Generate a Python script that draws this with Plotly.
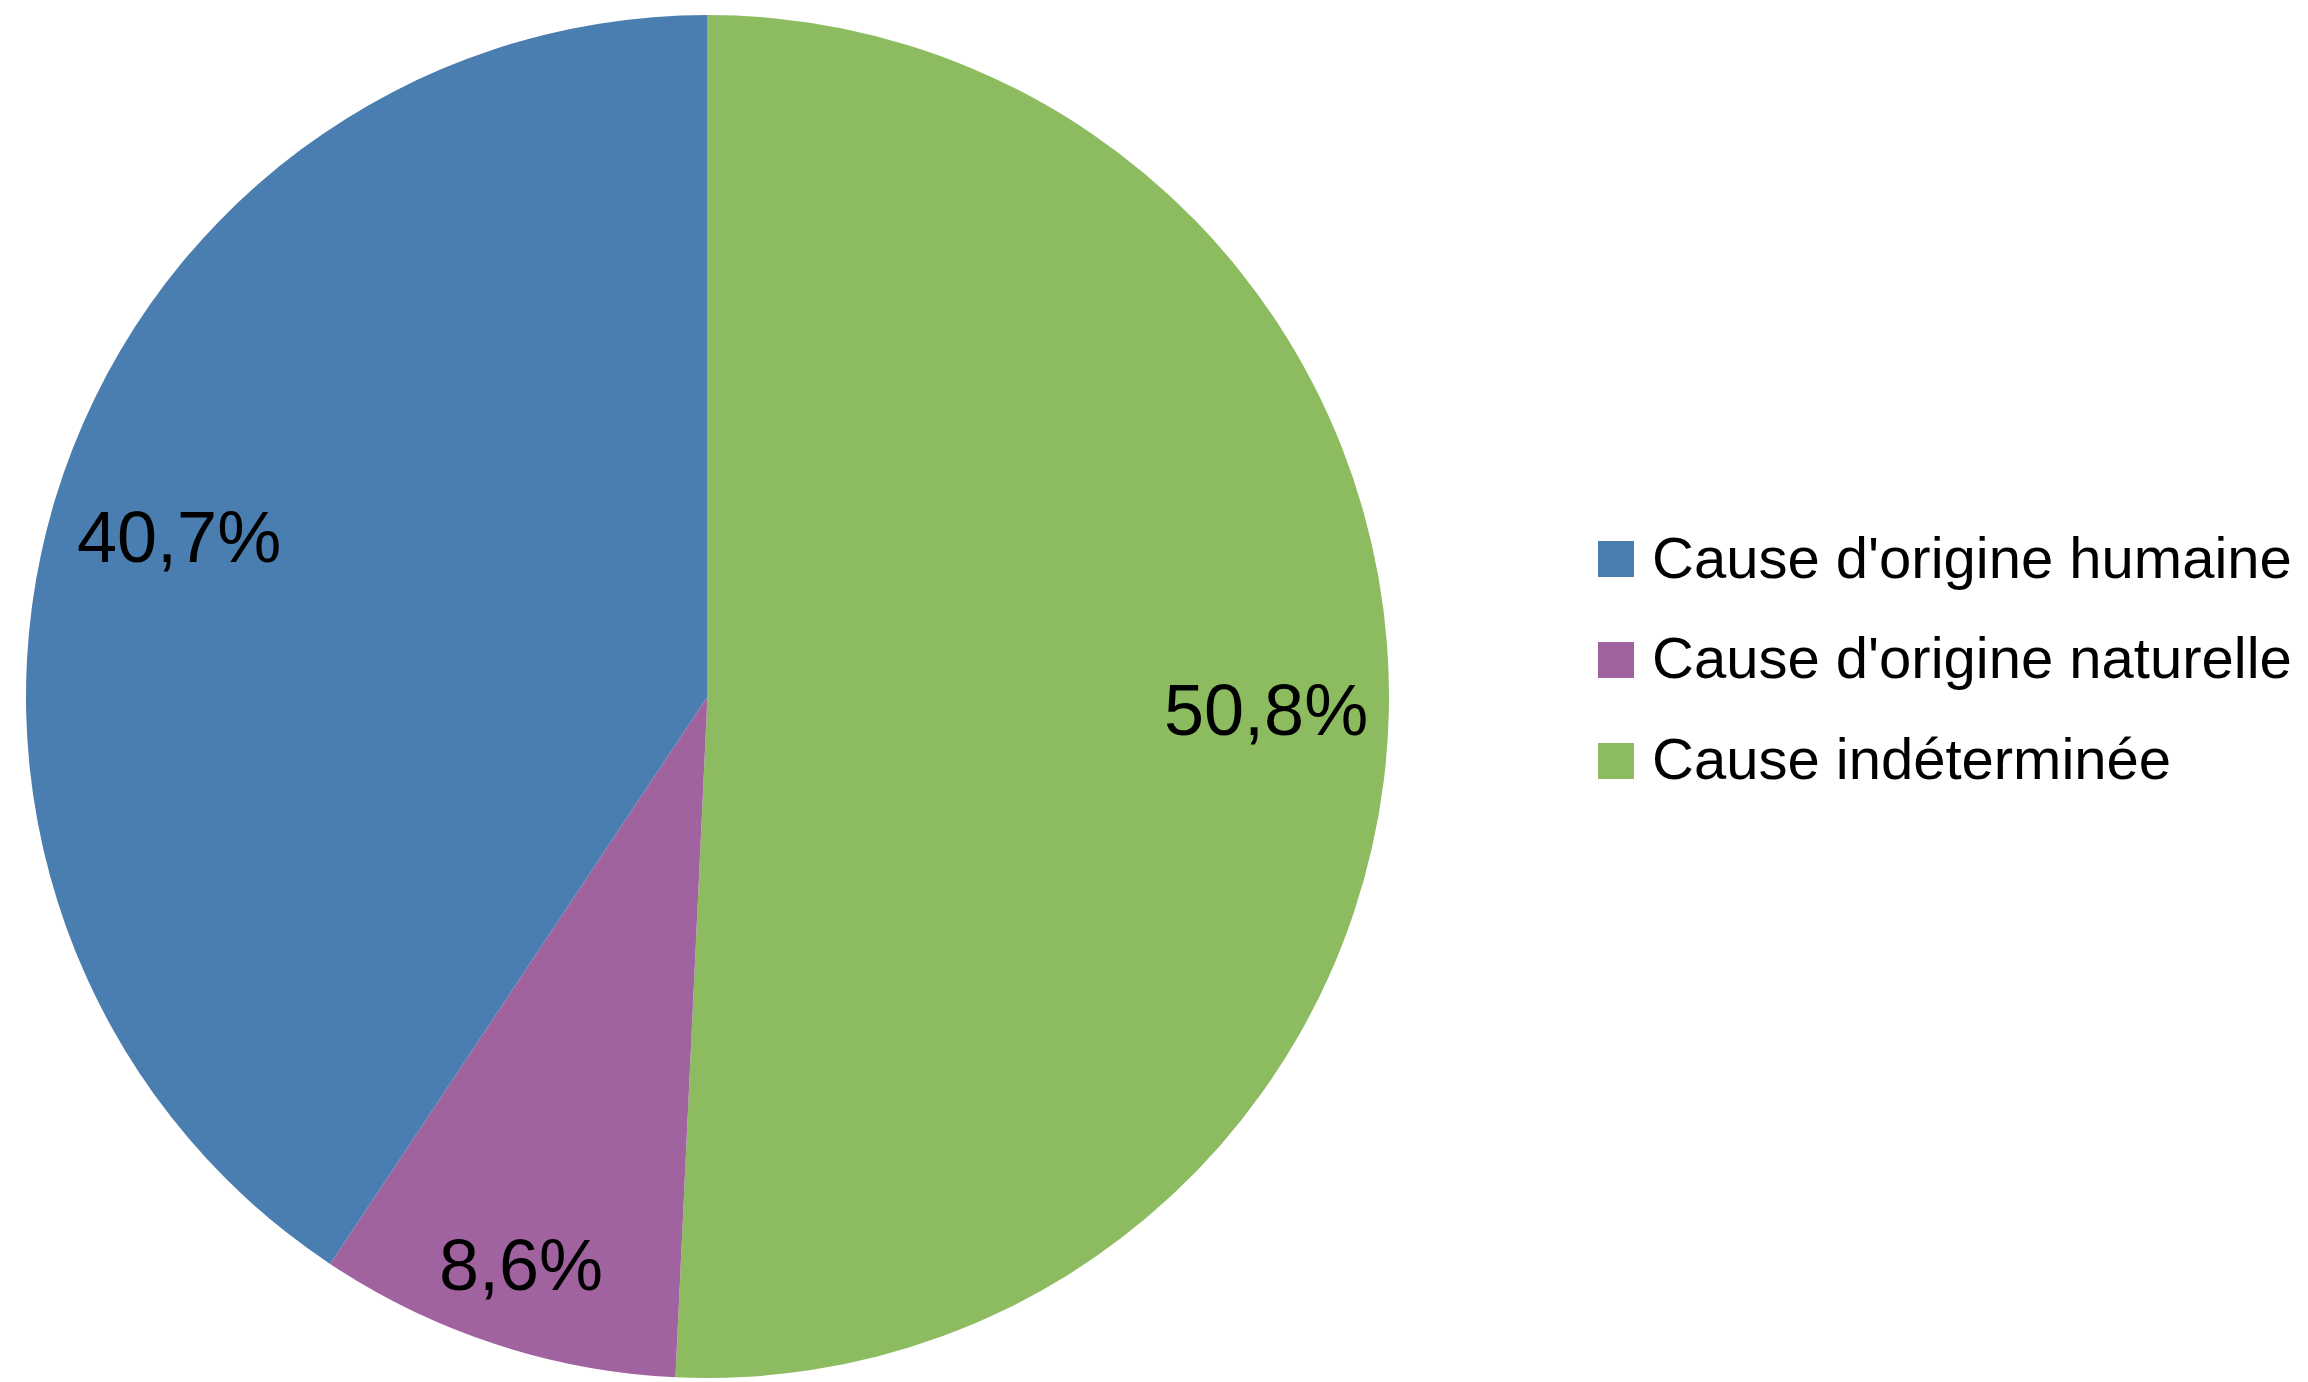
import math
import plotly.graph_objects as go

# ---- data ----
categories = ["Cause d'origine humaine", "Cause d'origine naturelle", "Cause indéterminée"]
values = [40.7, 8.6, 50.8]
colors = ["#4a7db0", "#a0639f", "#8cbb60"]

# ---- layout constants (pixels) ----
W, H = 2308, 1382
PIE_L, PIE_R, PIE_T, PIE_B = 25, 1390, 15, 1378
LABEL_FONT = 72
LEGEND_FONT = 58
FONT = "Liberation Sans, Arial, sans-serif"

# slices go counterclockwise from 12 o'clock in the reference:
# draw them clockwise in reverse order, which gives the same layout
fig = go.Figure(go.Pie(
    labels=categories[::-1],
    values=values[::-1],
    sort=False,
    direction="clockwise",
    rotation=0,
    marker=dict(colors=colors[::-1], line=dict(width=0)),
    textinfo="none",
    textposition="none",
    hoverinfo="label+percent",
    domain=dict(x=[PIE_L / W, PIE_R / W], y=[1 - PIE_B / H, 1 - PIE_T / H]),
    showlegend=False,
))

# pie geometry (as plotly lays it out)
cx = (PIE_L + PIE_R) / 2
cy = (PIE_T + PIE_B) / 2
R = min(PIE_R - PIE_L, PIE_B - PIE_T) / 2

# approximate glyph widths (em) for label box estimation
cw = {",": 0.278, "%": 0.889}


def fmt(v):
    return f"{v:.1f}".replace(".", ",") + "%"


annotations = []
shapes = []
total = sum(values)
cum = 0.0
for v in values:
    mid = (cum + v / 2) / total * 2 * math.pi
    cum += v
    # counterclockwise on screen starting at 12 o'clock
    dx, dy = -math.sin(mid), -math.cos(mid)
    txt = fmt(v)
    hw = 0.5 * LABEL_FONT * sum(cw.get(c, 0.556) for c in txt)
    hh = 40
    r = R - 20 - (hw * abs(dx) + hh * abs(dy))
    px, py = cx + r * dx, cy + r * dy
    annotations.append(dict(
        x=px / W, y=1 - py / H, xref="paper", yref="paper",
        text=txt, showarrow=False, xanchor="center", yanchor="middle",
        font=dict(family=FONT, size=LABEL_FONT, color="#000000"),
    ))

# manual legend (large swatches)
LEG_X, LEG_Y0, LEG_DY, SW, TXT_X = 1598, 559, 101, 36, 1650
for i, (name, col) in enumerate(zip(categories, colors)):
    yc = LEG_Y0 + i * LEG_DY
    shapes.append(dict(
        type="rect", xref="paper", yref="paper",
        x0=LEG_X / W, x1=(LEG_X + SW) / W,
        y0=1 - (yc + SW / 2) / H, y1=1 - (yc - SW / 2) / H,
        fillcolor=col, line=dict(width=0),
    ))
    annotations.append(dict(
        x=TXT_X / W, y=1 - (yc - 2) / H, xref="paper", yref="paper",
        text=name, showarrow=False, xanchor="left", yanchor="middle",
        font=dict(family=FONT, size=LEGEND_FONT, color="#000000"),
    ))

fig.update_layout(
    width=W, height=H,
    margin=dict(l=0, r=0, t=0, b=0),
    paper_bgcolor="white",
    plot_bgcolor="white",
    annotations=annotations,
    shapes=shapes,
    showlegend=False,
)

fig.write_html(
    "out.html",
    config={"displayModeBar": False},
    post_script="document.body.style.margin='0';document.body.style.overflow='hidden';",
)
